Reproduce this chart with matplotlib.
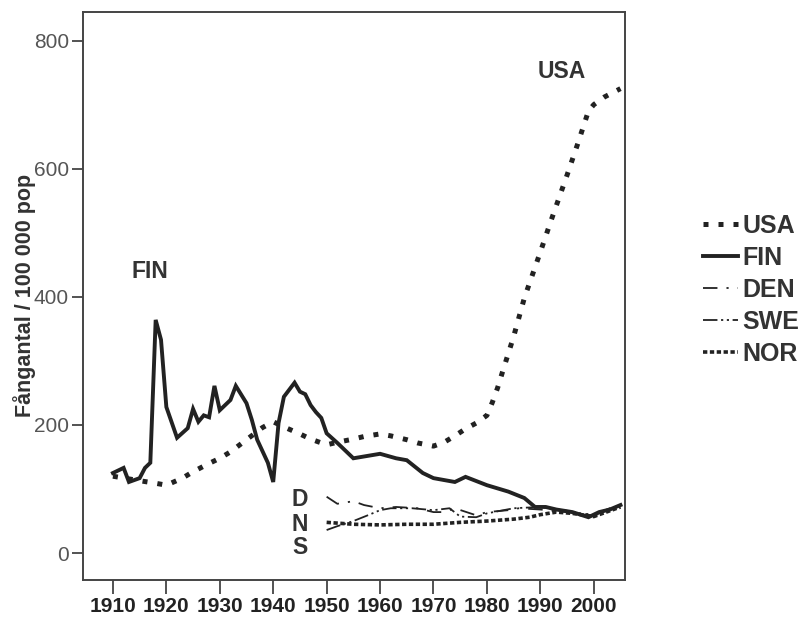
import matplotlib
matplotlib.use("Agg")
import matplotlib.pyplot as plt

plt.rcParams['font.family'] = ['Liberation Sans', 'DejaVu Sans']

# Fångar per 100 000 invånare
usa_years = [1910, 1915, 1918, 1920, 1923, 1925, 1928, 1930, 1932, 1935, 1938, 1940,
             1942, 1945, 1947, 1950, 1952, 1955, 1957, 1960, 1962, 1965, 1967, 1970,
             1972, 1974, 1976, 1978, 1980, 1981, 1982, 1983, 1985, 1987, 1990, 1992,
             1995, 1997, 1999, 2000, 2002, 2005]
usa = [120, 113, 109, 106, 117, 127, 140, 148, 158, 177, 196, 205,
       197, 186, 178, 169, 173, 178, 182, 186, 183, 177, 172, 167,
       173, 183, 194, 203, 215, 235, 258, 285, 338, 398, 470, 519,
       590, 639, 690, 700, 712, 725]

fin_years = [1910, 1912, 1913, 1915, 1916, 1917, 1918, 1919, 1920, 1922, 1924, 1925,
             1926, 1927, 1928, 1929, 1930, 1931, 1932, 1933, 1935, 1936, 1937, 1939,
             1940, 1941, 1942, 1944, 1945, 1946, 1947, 1948, 1949, 1950, 1952, 1955,
             1960, 1963, 1965, 1968, 1970, 1974, 1976, 1980, 1984, 1987, 1989, 1991,
             1993, 1996, 1999, 2001, 2003, 2005]
fin = [125, 133, 111, 117, 133, 141, 364, 333, 228, 180, 195, 225,
       205, 215, 212, 261, 223, 231, 239, 261, 234, 208, 177, 141,
       111, 203, 244, 266, 252, 248, 231, 220, 211, 187, 172, 148,
       155, 148, 145, 125, 117, 111, 119, 106, 96, 86, 72, 72,
       68, 64, 56, 64, 68, 75]

den_years = [1950, 1952, 1955, 1957, 1960, 1963, 1967, 1970, 1972, 1974, 1978, 1980,
             1984, 1986, 1990, 1995, 2000, 2003, 2005]
den = [88, 77, 81, 75, 70, 72, 70, 64, 64, 70, 59, 64,
       67, 70, 68, 64, 60, 70, 75]

swe_years = [1950, 1952, 1955, 1958, 1960, 1962, 1966, 1970, 1973, 1975, 1978, 1980,
             1985, 1990, 1995, 2000, 2003, 2005]
swe = [36, 42, 50, 60, 67, 70, 70, 67, 70, 57, 56, 62,
       70, 72, 66, 58, 68, 75]

nor_years = [1950, 1955, 1960, 1965, 1970, 1975, 1980, 1985, 1988, 1990, 1993, 1996,
             2000, 2003, 2005]
nor = [48, 45, 44, 45, 45, 48, 50, 53, 56, 60, 64, 62,
       57, 66, 72]

x_ticks = list(range(1910, 2001, 10))
y_ticks = [0, 200, 400, 600, 800]

ink = '#222222'
fig = plt.figure(figsize=(8.02, 6.19), dpi=100)
ax = fig.add_axes([0.1035, 0.063, 0.6755, 0.918])

ax.plot(usa_years, usa, color=ink, lw=3.6, ls=(0, (1, 2)), label='USA')
ax.plot(fin_years, fin, color=ink, lw=2.8, ls='-', solid_joinstyle='miter', label='FIN')
ax.plot(den_years, den, color=ink, lw=1.3, ls=(0, (8, 5, 1.2, 5)), label='DEN')
ax.plot(swe_years, swe, color=ink, lw=1.3, ls=(0, (8, 2, 1.2, 2, 1.2, 2)), label='SWE')
ax.plot(nor_years, nor, color=ink, lw=2.6, ls=(0, (1.2, 0.7)), label='NOR')

# etiketter i diagrammet
lab = dict(fontsize=16.5, fontweight='bold', color='#333333', ha='center', va='center')
ax.text(1917.0, 439, 'FIN', **lab)
ax.text(1994.1, 752, 'USA', **lab)
ax.text(1945, 83, 'D', **lab)
ax.text(1945, 45, 'N', **lab)
ax.text(1945, 8, 'S', **lab)

ax.set_xlim(1904.4, 2005.8)
ax.set_ylim(-42, 845)
ax.set_xticks(x_ticks)
ax.set_yticks(y_ticks)
ax.set_xticklabels([str(t) for t in x_ticks], fontsize=15, fontweight='bold', color='#222222')
ax.set_yticklabels([str(t) for t in y_ticks], fontsize=15, color='#555555')
ax.tick_params(axis='x', direction='out', length=10, width=1.3, color='#444444', pad=2)
ax.tick_params(axis='y', direction='out', length=8, width=1.3, color='#444444', pad=2)
for s in ax.spines.values():
    s.set_linewidth(1.4)
    s.set_color('#444444')

ax.set_ylabel('Fångantal / 100 000 pop', fontsize=15.5, fontweight='bold', color='#333333')
ax.yaxis.set_label_coords(-0.087, 0.5)

leg = ax.legend(loc='center left', bbox_to_anchor=(1.144, 0.51), frameon=False,
                prop={'size': 18, 'weight': 'bold'}, handlelength=1.4,
                handletextpad=0.2, labelspacing=0.32, borderpad=0, borderaxespad=0)
for t in leg.get_texts():
    t.set_color('#333333')

fig.savefig('out.png', dpi=100)
